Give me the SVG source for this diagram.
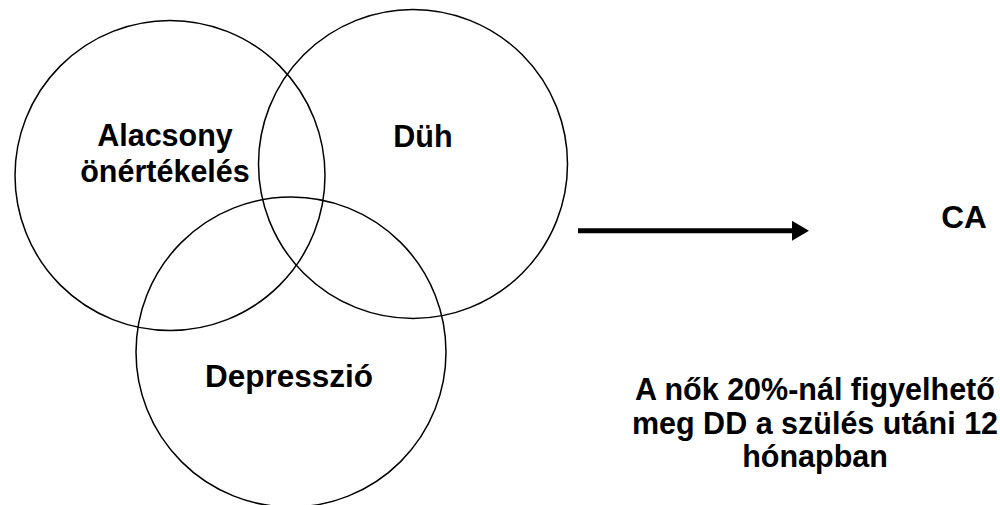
<svg xmlns="http://www.w3.org/2000/svg" width="1000" height="505" viewBox="0 0 1000 505">
<style>
.c{fill:none;stroke:#000;stroke-width:1.5}
.t{font-family:"Liberation Sans",Arial,sans-serif;font-weight:bold;font-size:30.5px;fill:#000;text-anchor:middle}
</style>
<defs>
<marker id="ah" markerWidth="4" markerHeight="4" refX="0" refY="2" orient="auto" markerUnits="strokeWidth">
<path d="M0,0 L3.4,2 L0,4 Z" fill="#000"/>
</marker>
</defs>
<rect width="1000" height="505" fill="#fff"/>
<g id="node-onertekeles">
<circle class="c" cx="170" cy="175.5" r="155"/>
<text class="t" x="165" y="146">Alacsony</text>
<text class="t" x="165" y="182">önértékelés</text>
</g>
<g id="node-duh">
<circle class="c" cx="413" cy="164" r="154.5"/>
<text class="t" x="423" y="146.5">Düh</text>
</g>
<g id="node-depresszio">
<circle class="c" cx="291" cy="352" r="155"/>
<text class="t" x="289" y="387" style="font-size:31.5px">Depresszió</text>
</g>
<g id="node-ca">
<text class="t" x="964" y="228" style="font-size:31.5px">CA</text>
</g>
<g id="node-note">
<text class="t" x="815" y="400">A nők 20%-nál figyelhető</text>
<text class="t" x="815" y="433.5">meg DD a szülés utáni 12</text>
<text class="t" x="815" y="467">hónapban</text>
</g>
<g id="connectors">
<line x1="578" y1="230.8" x2="792" y2="230.8" stroke="#000" stroke-width="5" marker-end="url(#ah)"/>
</g>
</svg>
